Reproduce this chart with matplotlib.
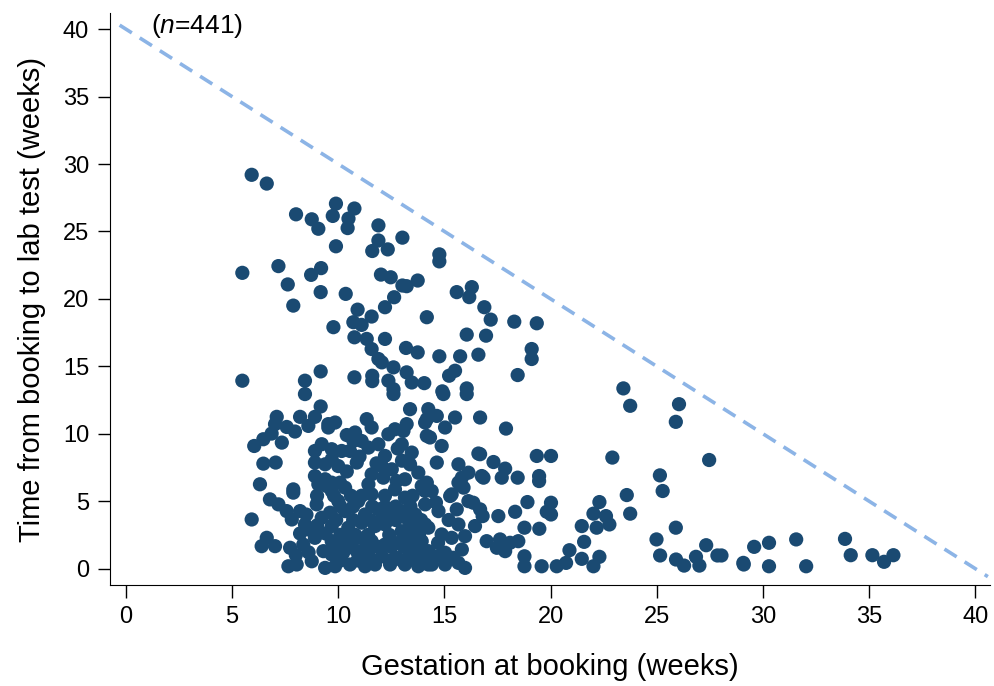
import numpy as np
import matplotlib.pyplot as plt

plt.rcParams['font.family'] = ['Liberation Sans', 'DejaVu Sans']
plt.rcParams['mathtext.fontset'] = 'custom'
plt.rcParams['mathtext.rm'] = 'Liberation Sans'
plt.rcParams['mathtext.it'] = 'Liberation Sans:italic'

# gestation at booking (weeks) / time from booking to lab test (weeks)
# upper part of the cloud
gest_hi = [5.92, 6.63, 8.01, 8.75, 9.06, 9.89, 9.74, 10.76, 10.48, 10.44, 9.89, 11.89, 11.89, 11.6,
           12.33, 13.02, 14.76, 14.76, 5.48, 7.18, 7.62, 8.72, 9.19, 7.88, 9.17, 10.35, 12.01, 12.47,
           13.74, 13.02, 13.22, 12.63, 12.2, 10.91, 11.57, 9.77, 10.71, 11.1, 10.76, 11.34, 12.2, 11.57,
           11.89, 12.05, 13.19, 13.74, 14.17, 15.58, 16.29, 16.17, 16.88, 17.18, 18.29, 19.35, 16.05,
           16.96, 14.76, 15.74, 16.6, 19.11, 19.11, 5.48, 8.43, 9.17, 10.76, 11.6, 11.6, 12.6, 12.36,
           12.6, 13.22, 13.46, 14.05, 14.9, 15.22, 15.5, 16.05, 18.45, 8.43]
time_hi = [29.2, 28.55, 26.27, 25.9, 25.2, 27.06, 26.15, 26.7, 25.95, 25.25, 23.9, 25.45, 24.33, 23.55,
           23.67, 24.54, 23.3, 22.78, 21.93, 22.43, 21.07, 21.78, 22.28, 19.5, 20.5, 20.37, 21.8, 21.6,
           21.36, 20.99, 20.94, 20.12, 19.38, 19.2, 18.69, 17.9, 18.27, 18.07, 17.15, 17.03, 17.03, 16.28,
           15.54, 15.29, 16.36, 16.03, 18.64, 20.5, 20.87, 20.13, 19.38, 18.46, 18.31, 18.19, 17.35,
           17.27, 15.74, 15.74, 15.86, 16.28, 15.54, 13.93, 13.93, 14.62, 14.18, 14.3, 13.9, 14.92, 13.93,
           13.3, 14.55, 13.8, 13.75, 13.14, 14.3, 14.67, 13.36, 14.35, 12.94]

# late bookers (right side)
gest_late = [23.43, 23.75, 26.05, 25.9, 17.9, 16.68, 19.35, 20.02, 22.91, 27.47, 17.31, 17.86, 17.7,
             16.68, 16.84, 18.45, 19.46, 19.46, 25.15, 25.28, 23.59, 23.75, 18.91, 20.02, 19.82, 20.02,
             22.3, 22.02, 22.61, 22.77, 21.47, 22.17, 17.54, 18.33, 16.8, 18.77, 19.47, 21.58, 20.89,
             21.47, 22.3, 22.02, 20.73, 20.29, 19.58, 18.77, 18.77, 17.62, 18.09, 18.48, 16.99, 17.86,
             17.47, 25.9, 24.99, 25.16, 25.91, 26.29, 26.85, 27.01, 27.33, 27.86, 28.05, 29.08, 29.1,
             29.59, 30.29, 30.29, 31.57, 32.04, 33.87, 34.14, 35.16, 35.71, 36.15]
time_late = [13.36, 12.07, 12.19, 10.88, 10.38, 11.2, 8.35, 8.35, 8.23, 8.05, 7.9, 7.41, 6.74,
             8.48, 6.74, 6.74, 6.86, 6.49, 6.91, 5.75, 5.45, 4.07, 4.93, 4.88, 4.21, 4.01,
             4.93, 4.07, 3.89, 3.27, 3.15, 3.03, 3.89, 4.21, 3.89, 3.03, 2.95, 1.98, 1.36,
             0.72, 0.87, 0.17, 0.42, 0.17, 0.17, 0.17, 0.91, 2.16, 1.91, 2.03, 2.03, 1.29,
             1.54, 3.03, 2.16, 0.97, 0.67, 0.22, 0.87, 0.22, 1.73, 0.97, 0.97, 0.42, 0.3,
             1.61, 1.91, 0.17, 2.16, 0.17, 2.2, 0.99, 0.99, 0.5, 0.99]

# dense cluster, left half
gest_left = [9.17, 8.9, 8.2, 7.1, 7.02, 7.57, 7.96, 8.59, 6.86, 6.47, 6.04, 7.34, 6.47, 7.05, 6.31, 7.88,
             8.9, 9.22, 8.9, 9.38, 8.9, 9.38, 9.06, 9.46, 9.53,
             7.88, 6.78, 7.18, 7.57, 8.2, 7.81, 8.43, 5.92, 8.98, 9.22, 6.63, 6.39, 7.02, 7.73, 8.35,
             8.9, 7.65, 8.04, 8.75, 9.3, 9.38,
             9.0, 8.6, 9.0, 8.5, 9.4, 8.2, 8.0, 8.6]
time_left = [12.02, 11.25, 11.25, 11.25, 10.71, 10.5, 10.16, 10.58, 10.01, 9.59, 9.09, 9.34, 7.78, 7.86,
             6.25, 5.87, 8.72, 9.22, 7.86, 7.73, 6.86, 6.62, 6.25, 6.12, 10.71,
             5.63, 5.13, 4.76, 4.26, 4.26, 3.64, 3.27, 3.64, 4.76, 3.77, 2.28, 1.66, 1.66, 1.54, 1.78,
             2.28, 0.17, 0.3, 0.54, 1.29, 0.05,
             5.4, 2.9, 3.2, 4.0, 2.6, 2.6, 1.0, 1.2]

# dense cluster, middle
gest_mid = [12.6, 13.38, 14.09, 14.17, 9.85, 9.53, 11.34, 11.57, 10.79, 10.71, 11.1, 11.42, 11.89, 12.36,
            12.67, 13.07, 13.22, 12.99, 13.46, 9.69, 10.16, 10.55, 9.69, 10.0, 10.87, 12.2, 12.05, 12.52,
            13.38, 13.77, 11.57, 12.12, 12.75, 13.14, 9.69, 10.08, 11.42, 13.93,
            9.69, 10.32, 10.0, 10.94, 11.57, 12.67, 13.14, 14.09, 14.09, 9.61, 10.32, 11.26, 11.89,
            12.36, 12.99, 13.62, 9.69, 10.47, 11.1, 11.73, 12.2, 12.99, 13.54, 14.09, 9.69, 10.32,
            10.94, 11.57, 12.2, 12.83, 13.38, 13.93, 9.69, 10.23, 10.87, 11.42, 12.05, 12.75, 13.38,
            14.01, 9.85, 10.55, 11.26, 11.73, 12.44, 13.14, 13.77, 14.24,
            10.1, 10.9, 11.6, 12.4, 13.0, 13.6,
            9.9, 10.6, 11.3, 11.9, 12.5, 13.1, 13.7,
            10.1, 10.8, 11.4, 12.4, 13.3, 13.8,
            9.9, 10.7, 11.5, 12.0, 12.7, 13.3, 13.9,
            10.1, 10.7, 11.6, 12.2, 12.7, 13.4,
            9.8, 10.6, 11.1, 12.2, 13.5,
            10.4, 12.8, 11.0, 13.0, 10.4, 11.8]
time_mid = [12.94, 11.82, 10.83, 9.84, 10.83, 10.46, 11.08, 10.46, 10.09, 9.46, 9.46, 8.97, 9.22, 9.96,
            10.33, 10.21, 10.71, 9.22, 8.6, 8.85, 8.72, 8.72, 8.1, 7.6, 7.86, 8.35, 7.6, 7.36,
            7.73, 7.11, 6.99, 6.74, 6.49, 6.62, 6.37, 6.37, 6.25, 6.12,
            5.75, 6.0, 5.0, 5.0, 5.5, 5.87, 5.26, 5.75, 4.76, 4.14, 4.26, 4.01, 4.39,
            4.01, 4.26, 4.01, 3.15, 3.03, 3.4, 3.15, 3.27, 2.77, 3.03, 3.27, 2.03, 2.16,
            2.28, 2.03, 1.78, 1.91, 2.16, 2.03, 1.04, 1.17, 1.29, 1.04, 0.91, 0.8, 1.17,
            1.04, 0.17, 0.3, 0.17, 0.3, 0.3, 0.3, 0.17, 0.3,
            0.6, 0.6, 0.6, 0.6, 0.6, 0.6,
            1.6, 1.6, 1.6, 1.6, 1.6, 1.6, 1.6,
            2.5, 2.5, 2.5, 2.5, 2.5, 2.5,
            3.6, 3.6, 3.6, 3.6, 3.6, 3.6, 3.6,
            4.6, 4.6, 4.6, 4.6, 4.6, 4.6,
            5.4, 5.4, 5.4, 5.4, 5.4,
            9.9, 8.9, 8.3, 8.0, 7.2, 7.8]

# dense cluster, right half
gest_right = [14.95, 16.05, 14.24, 14.64, 15.5, 15.03, 14.32, 14.87, 16.6, 14.64, 15.66, 16.13, 16.76,
              14.17, 15.66, 15.82, 14.17, 14.4, 15.34, 15.9, 16.13, 16.68, 15.58, 14.72, 15.66, 16.44,
              14.24, 14.87, 15.34, 15.97, 14.24, 15.03, 15.82, 14.4, 15.03, 15.66, 15.97, 15.74,
              15.27, 16.36, 14.6, 15.2, 14.7, 15.4, 14.6]
time_right = [12.94, 12.94, 11.82, 11.32, 11.2, 10.46, 9.72, 9.09, 8.53, 7.86, 7.73, 7.11, 6.86,
              6.37, 6.37, 6.74, 11.08, 5.75, 5.5, 6.0, 5.0, 4.39, 4.39, 4.26, 3.27, 3.15,
              3.03, 2.53, 2.28, 2.4, 1.29, 1.17, 1.41, 0.3, 0.3, 0.42, 0.05, 6.25,
              5.38, 4.88, 4.9, 3.6, 1.9, 0.8, 0.9]

gest = np.array(gest_hi + gest_late + gest_left + gest_mid + gest_right)
delay = np.array(time_hi + time_late + time_left + time_mid + time_right)

fig = plt.figure(figsize=(9.95, 6.86), dpi=100)
ax = fig.add_axes([110/995, 1-585/686, 880/995, 572/686])

ax.scatter(gest, delay, s=105, color='#1a4a72', edgecolors='none', zorder=3)
ax.plot([-0.3, 40.6], [40.3, -0.6], ls=(0, (4, 2.6)), lw=2.6, color='#8cb4e6', zorder=2)

ax.text(1.2, 40.2, r'($\it{n}$=441)', fontsize=19, va='center')

ax.set_xlim(-0.754, 40.7)
ax.set_ylim(-1.22, 41.2)
ax.set_xticks(range(0, 41, 5))
ax.set_yticks(range(0, 41, 5))
ax.spines['top'].set_visible(False)
ax.spines['right'].set_visible(False)
ax.tick_params(direction='out', length=9, width=1, labelsize=17, pad=6)
ax.set_xlabel('Gestation at booking (weeks)', fontsize=21, labelpad=18)
ax.set_ylabel('Time from booking to lab test (weeks)', fontsize=21, labelpad=12)

fig.savefig('out.png')
